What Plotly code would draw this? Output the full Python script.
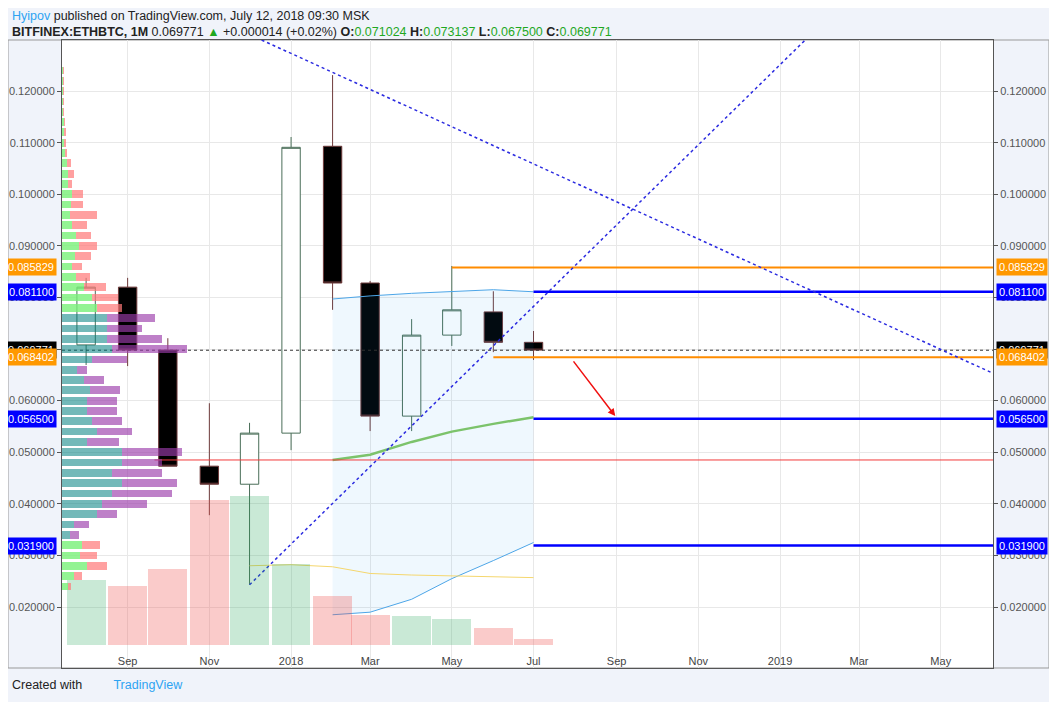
import plotly.graph_objects as go

months = ["2017-08-01","2017-09-01","2017-10-01","2017-11-01","2017-12-01","2018-01-01",
          "2018-02-01","2018-03-01","2018-04-01","2018-05-01","2018-06-01","2018-07-01"]
opens  = [0.0708,0.0820,0.0698,0.0473,0.0438,0.0537,0.1093,0.0828,0.0570,0.0727,0.0772,0.0713]
highs  = [0.0838,0.0838,0.0721,0.0595,0.0557,0.1111,0.1231,0.0832,0.0758,0.0861,0.0812,0.0735]
lows   = [0.0669,0.0667,0.0473,0.0378,0.0243,0.0504,0.0776,0.0541,0.0541,0.0706,0.0694,0.0679]
closes = [0.0820,0.0698,0.0473,0.0438,0.0537,0.1091,0.0828,0.0570,0.0727,0.0776,0.0713,0.0698]
volumes = [65,59,76,145,149,81,49,30,29,26,17,6]

vp_levels = [0.124,0.122,0.120,0.118,0.116,0.114,0.112,0.110,0.108,0.106,0.104,0.102,0.100,0.098,
             0.096,0.094,0.092,0.090,0.088,0.086,0.084,0.082,0.080,0.078,0.076,0.074,0.072,0.070,
             0.068,0.066,0.064,0.062,0.060,0.058,0.056,0.054,0.052,0.050,0.048,0.046,0.044,0.042,
             0.040,0.038,0.036,0.034,0.032,0.030,0.028,0.026,0.024]
vp_up   = [1,1,1,1,1,2,2,2,3,5,6,6,10,9,8,10,14,17,13,10,14,22,30,35,45,45,45,50,
           30,15,22,28,25,25,30,35,25,60,60,50,60,50,40,35,12,8,20,18,25,12,6]
vp_down = [1,1,1,1,1,1,2,2,2,4,6,4,11,12,27,15,15,18,16,10,14,22,26,25,48,35,55,75,
           35,10,20,30,30,30,30,35,32,60,40,50,55,60,45,20,15,9,18,17,20,8,3]
value_area = (0.034, 0.077)

shade_x = ["2018-02-01","2018-03-01","2018-04-01","2018-05-01","2018-06-01","2018-07-01"]
shade_upper = [0.0797,0.0803,0.0808,0.0812,0.0815,0.0811]
shade_lower = [0.0185,0.0190,0.0215,0.0255,0.0290,0.0325]
green_line = [0.0485,0.0495,0.0520,0.0540,0.0555,0.0568]
yellow_x = ["2017-12-01","2018-01-01","2018-02-01","2018-03-01","2018-04-01","2018-05-01","2018-06-01","2018-07-01"]
yellow_line = [0.0280,0.0282,0.0278,0.0265,0.0262,0.0260,0.0258,0.0257]

x_start, x_end = "2017-07-14", "2019-06-09"
y_lo, y_hi = 0.00818, 0.1299
price_ticks = [0.02,0.03,0.04,0.05,0.06,0.07,0.08,0.09,0.10,0.11,0.12]
tick_vals = ["2017-09-01","2017-11-01","2018-01-01","2018-03-01","2018-05-01","2018-07-01",
             "2018-09-01","2018-11-01","2019-01-01","2019-03-01","2019-05-01"]
tick_text = ["Sep","Nov","2018","Mar","May","Jul","Sep","Nov","2019","Mar","May"]

fig = go.Figure()

vcol = ["rgba(38,166,91,0.25)" if c >= o else "rgba(239,83,80,0.3)" for o, c in zip(opens, closes)]
fig.add_trace(go.Bar(x=months, y=volumes, marker_color=vcol, marker_line_width=0,
                     width=29*86400000, yaxis="y4", showlegend=False))

up_col = ["rgba(0,128,128,0.55)" if value_area[0] <= p <= value_area[1] else "rgba(120,240,120,0.8)" for p in vp_levels]
dn_col = ["rgba(155,60,170,0.65)" if value_area[0] <= p <= value_area[1] else "rgba(255,120,120,0.7)" for p in vp_levels]
fig.add_trace(go.Bar(y=vp_levels, x=vp_up, orientation="h", marker_color=up_col, marker_line_width=0,
                     width=0.0015, xaxis="x2", yaxis="y", showlegend=False))
fig.add_trace(go.Bar(y=vp_levels, x=vp_down, base=vp_up, orientation="h", marker_color=dn_col, marker_line_width=0,
                     width=0.0015, xaxis="x2", yaxis="y", showlegend=False))

fig.add_trace(go.Scatter(x=shade_x, y=shade_lower, mode="lines", line=dict(color="#4da6e8", width=1), showlegend=False))
fig.add_trace(go.Scatter(x=shade_x, y=shade_upper, mode="lines", line=dict(color="#4da6e8", width=1),
                         fill="tonexty", fillcolor="rgba(33,150,243,0.07)", showlegend=False))
fig.add_trace(go.Scatter(x=shade_x, y=green_line, mode="lines", line=dict(color="#7cc36b", width=2.5), showlegend=False))
fig.add_trace(go.Scatter(x=yellow_x, y=yellow_line, mode="lines", line=dict(color="#f5d76e", width=1), showlegend=False))

def hline(x0, y, color, width, dash="solid"):
    fig.add_trace(go.Scatter(x=[x0, x_end], y=[y, y], mode="lines",
                             line=dict(color=color, width=width, dash=dash), showlegend=False))
hline("2017-09-21", 0.0485, "#f23b3b", 1)
hline(x_start, 0.069771, "#333333", 1, "dot")
hline("2018-05-01", 0.085829, "#ff8c00", 2)
hline("2018-06-01", 0.068402, "#ff8c00", 2)
hline("2018-07-01", 0.0811, "#0000ff", 2.5)
hline("2018-07-01", 0.0565, "#0000ff", 2.5)
hline("2018-07-01", 0.0319, "#0000ff", 2.5)

fig.add_trace(go.Scatter(x=["2017-12-01","2019-02-01"], y=[0.0243,0.1330], mode="lines",
                         line=dict(color="#2a2ae0", width=1.5, dash="dot"), showlegend=False))
fig.add_trace(go.Scatter(x=["2017-12-10",x_end], y=[0.1299,0.0653], mode="lines",
                         line=dict(color="#2a2ae0", width=1.5, dash="dot"), showlegend=False))

fig.add_trace(go.Candlestick(x=months, open=opens, high=highs, low=lows, close=closes,
                             increasing=dict(fillcolor="white", line=dict(color="#4a6e58", width=1)),
                             decreasing=dict(fillcolor="black", line=dict(color="#6e3a3a", width=1)),
                             whiskerwidth=0, showlegend=False))

fig.add_trace(go.Scatter(x=[x_start], y=[0.05], yaxis="y3", mode="markers", marker=dict(opacity=0),
                         showlegend=False, hoverinfo="skip"))

fig.add_annotation(x="2018-08-31", y=0.0570, ax="2018-07-30", ay=0.0679, xref="x", yref="y", axref="x", ayref="y",
                   showarrow=True, arrowhead=2, arrowsize=1, arrowwidth=1.5, arrowcolor="#f01010", text="")

labels = [(0.085829, "#ff9800"), (0.0811, "#0000ff"), (0.069771, "#000000"), (0.068402, "#ff9800"),
          (0.0565, "#0000ff"), (0.0319, "#0000ff")]
for val, col in labels:
    for xp, anc in [(0, "right"), (1, "left")]:
        fig.add_annotation(x=xp, y=val, xref="paper", yref="y", xanchor=anc, yanchor="middle",
                           text=f"{val:.6f}", showarrow=False, bgcolor=col,
                           font=dict(color="white", size=11, family="Liberation Sans"),
                           borderpad=2, xshift=-5 if xp == 0 else 3)

fig.add_annotation(x=0, y=1, xref="paper", yref="paper", xanchor="left", yanchor="top", xshift=-52, yshift=33,
                   showarrow=False, align="left",
                   text="<span style='color:#2ea3f2'>Hyipov</span> published on TradingView.com, July 12, 2018 09:30 MSK<br>"
                        "<b>BITFINEX:ETHBTC, 1M</b> 0.069771 <span style='color:#1fa81f'>▲</span> +0.000014 (+0.02%) "
                        "<b>O:</b><span style='color:#1fa81f'>0.071024</span> <b>H:</b><span style='color:#1fa81f'>0.073137</span> "
                        "<b>L:</b><span style='color:#1fa81f'>0.067500</span> <b>C:</b><span style='color:#1fa81f'>0.069771</span>",
                   font=dict(size=12.5, color="#222", family="Liberation Sans"))
fig.add_annotation(x=0, y=0, xref="paper", yref="paper", xanchor="left", yanchor="top", xshift=-52, yshift=-8,
                   showarrow=False,
                   text="Created with &nbsp;&nbsp;&nbsp;&nbsp;&nbsp;&nbsp;&nbsp;&nbsp;<span style='color:#2ea3f2'>TradingView</span>",
                   font=dict(size=12.5, color="#222", family="Liberation Sans"))

fig.add_shape(type="rect", xref="paper", yref="paper", x0=-54/931, x1=1+56/931, y0=0, y1=1,
              line=dict(color="#999", width=1), layer="below")

grid = "#e8e8e8"
fig.update_layout(
    width=1049, height=694, margin=dict(l=54, r=64, t=32, b=34),
    paper_bgcolor="#f0f3fa", plot_bgcolor="white", bargap=0, barmode="overlay",
    font=dict(family="Liberation Sans", size=11, color="#555"),
    xaxis=dict(range=[x_start, x_end], tickvals=tick_vals, ticktext=tick_text, showgrid=True, gridcolor=grid,
               rangeslider=dict(visible=False), showline=True, linecolor="#555", mirror=True,
               ticklabelposition="inside", ticks="", automargin=False),
    xaxis2=dict(range=[0, 931], overlaying="x", visible=False),
    yaxis=dict(range=[y_lo, y_hi], tickvals=price_ticks, tickformat=".6f", showgrid=True, gridcolor=grid,
               showline=True, linecolor="#555", ticks="outside", ticklen=4, tickcolor="#555", zeroline=False,
               automargin=False),
    yaxis3=dict(range=[y_lo, y_hi], tickvals=price_ticks, tickformat=".6f", overlaying="y", side="right",
                showline=True, linecolor="#555", ticks="outside", ticklen=4, tickcolor="#555", showgrid=False,
                zeroline=False, automargin=False),
    yaxis4=dict(range=[-23, 605], overlaying="y", visible=False),
)
fig.write_html("out.html")
